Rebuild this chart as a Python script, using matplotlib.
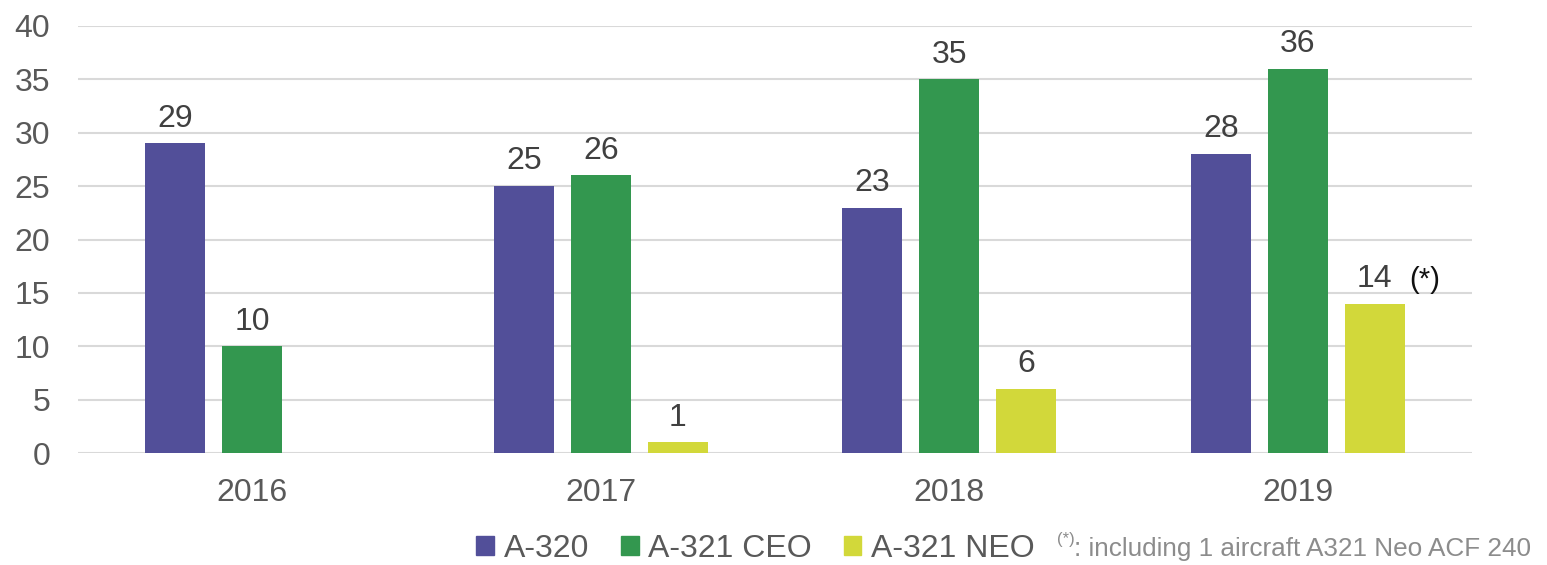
import matplotlib.pyplot as plt
import numpy as np
from matplotlib.patches import Patch

plt.rcParams['font.family'] = ['Liberation Sans', 'DejaVu Sans']

# 데이터
years = ['2016', '2017', '2018', '2019']
a320 = [29, 25, 23, 28]
a321_ceo = [10, 26, 35, 36]
a321_neo = [np.nan, 1, 6, 14]
series_names = ['A-320', 'A-321 CEO', 'A-321 NEO']
footnote = ': including 1 aircraft A321 Neo ACF 240'

C_PURPLE = '#524F99'
C_GREEN = '#33974F'
C_YELLOW = '#D2D83A'
C_TEXT = '#404040'
C_TICK = '#595959'

fig = plt.figure(figsize=(15.47, 5.65), dpi=100)
ax = fig.add_axes([0.0504, 0.198, 0.9011, 0.756])

x = np.arange(len(years))
w = 0.172
off = 0.221
series = [a320, a321_ceo, a321_neo]
colors = [C_PURPLE, C_GREEN, C_YELLOW]

for i, (vals, col) in enumerate(zip(series, colors)):
    pos = x + (i - 1) * off
    bars = ax.bar(pos, vals, width=w, color=col, zorder=3)
    for b, v in zip(bars, vals):
        if np.isnan(v):
            continue
        ax.annotate(f"{v:g}", (b.get_x() + b.get_width() / 2, v),
                    xytext=(0, 7), textcoords='offset points',
                    ha='center', va='bottom', fontsize=23, color=C_TEXT)

# 2019 NEO 주석 표시
ax.annotate('(*)', (x[3] + off, a321_neo[3]), xytext=(36, 7),
            textcoords='offset points', ha='center', va='bottom',
            fontsize=21, color='#111111')

ax.set_xlim(-0.5, 3.5)
ax.set_ylim(0, 40)
ax.set_yticks(range(0, 41, 5))
ax.set_xticks(x)
ax.set_xticklabels(years)
ax.tick_params(axis='both', length=0, labelsize=23, labelcolor=C_TICK)
ax.tick_params(axis='x', pad=18)
ax.tick_params(axis='y', pad=20)
ax.grid(axis='y', color='#D9D9D9', linewidth=1.5, zorder=0)
ax.set_axisbelow(True)
for s in ax.spines.values():
    s.set_visible(False)

# 범례
handles = [Patch(color=c, label=n) for c, n in zip(colors, series_names)]
fig.legend(handles=handles, loc='center left', bbox_to_anchor=(0.308, 0.029),
           ncol=3, frameon=False, fontsize=23, handlelength=0.55, handleheight=0.55,
           handletextpad=0.3, columnspacing=1.0, labelcolor=C_TICK,
           borderaxespad=0, borderpad=0)

fig.text(0.683, 0.046, '(*)', fontsize=12, color='#8c8c8c', ha='left', va='center')
fig.text(0.694, 0.029, footnote, fontsize=18.8, color='#8c8c8c', ha='left', va='center')

plt.savefig('out.png', dpi=100)
